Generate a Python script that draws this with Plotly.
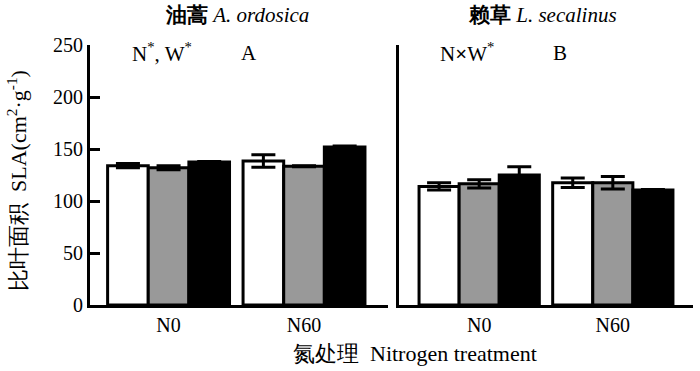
import plotly.graph_objects as go

categories = ["N0", "N60"]

# Artemisia ordosica (left panel)
ord_white = [134, 138.5]
ord_white_err = [2, 6]
ord_gray = [132, 133.5]
ord_gray_err = [2, 0.5]
ord_black = [137.5, 152]
ord_black_err = [0.5, 1]

# Leymus secalinus (right panel)
sec_white = [114, 117.5]
sec_white_err = [3.5, 4.5]
sec_gray = [116.5, 117.5]
sec_gray_err = [4, 6]
sec_black = [125, 110.5]
sec_black_err = [8, 0.5]

y_ticks = [0, 50, 100, 150, 200, 250]

FONT = "Liberation Serif"
fills = ["#ffffff", "#999999", "#000000"]

fig = go.Figure()

panels = [
    ("x", "y", [ord_white, ord_gray, ord_black], [ord_white_err, ord_gray_err, ord_black_err]),
    ("x2", "y2", [sec_white, sec_gray, sec_black], [sec_white_err, sec_gray_err, sec_black_err]),
]
for xa, ya, vals, errs in panels:
    for i in range(3):
        fig.add_trace(go.Bar(
            x=categories, y=vals[i], xaxis=xa, yaxis=ya,
            marker=dict(color=fills[i], line=dict(color="black", width=3)),
            error_y=dict(type="data", array=errs[i], visible=True,
                         color="black", thickness=3, width=12),
            showlegend=False, offsetgroup=str(i), hoverinfo="skip",
        ))

W, H = 700, 371
def px(x):
    return x / W
def py(y):
    return 1 - y / H

fig.update_layout(
    width=W, height=H,
    margin=dict(l=0, r=0, t=0, b=0, autoexpand=False),
    paper_bgcolor="white", plot_bgcolor="white",
    barmode="group", bargap=0.1, bargroupgap=0,
    font=dict(family=FONT, size=20, color="black"),
    xaxis=dict(domain=[px(90), px(388)], range=[-0.58, 1.62], type="category",
               showline=True, linewidth=3, linecolor="black", ticks="",
               showgrid=False, zeroline=False, anchor="y", automargin=False,
               tickfont=dict(size=20, family=FONT), ticklabelstandoff=0),
    yaxis=dict(domain=[py(305), py(45)], range=[0, 250], tickvals=y_ticks,
               showline=True, linewidth=3, linecolor="black", ticks="inside",
               ticklen=10, tickwidth=3, tickcolor="black", showgrid=False,
               zeroline=False, anchor="x", automargin=False,
               tickfont=dict(size=20, family=FONT)),
    xaxis2=dict(domain=[px(399), px(693)], range=[-0.6, 1.6], type="category",
                showline=True, linewidth=3, linecolor="black", ticks="",
                showgrid=False, zeroline=False, anchor="y2", automargin=False,
                tickfont=dict(size=20, family=FONT), ticklabelstandoff=0),
    yaxis2=dict(domain=[py(305), py(45)], range=[0, 250],
                showline=True, linewidth=3, linecolor="black", ticks="",
                showticklabels=False, showgrid=False, zeroline=False,
                anchor="x2", automargin=False),
)

ann = [
    dict(text="<b>油蒿</b> <i>A. ordosica</i>", x=px(237), y=py(15), size=21),
    dict(text="<b>赖草</b> <i>L. secalinus</i>", x=px(542), y=py(15), size=21),
    dict(text="N<sup>*</sup>, W<sup>*</sup>", x=px(162), y=py(53), size=21),
    dict(text="A", x=px(249), y=py(53), size=21),
    dict(text="N<b>×</b>W<sup>*</sup>", x=px(467), y=py(53), size=21),
    dict(text="B", x=px(560), y=py(53), size=21),
    dict(text="氮处理  Nitrogen treatment", x=px(415), y=py(353), size=22),
    dict(text="比叶面积  SLA(cm<sup>2</sup>·g<sup>-1</sup>)", x=px(17), y=py(181), textangle=-90, size=22),
]
for a in ann:
    size = a.pop("size")
    fig.add_annotation(xref="paper", yref="paper", showarrow=False,
                       xanchor="center", yanchor="middle",
                       font=dict(family=FONT, size=size, color="black"), **a)

fig.write_html("out.html", config={"displayModeBar": False, "staticPlot": True},
               post_script="document.body.style.margin='0';")
